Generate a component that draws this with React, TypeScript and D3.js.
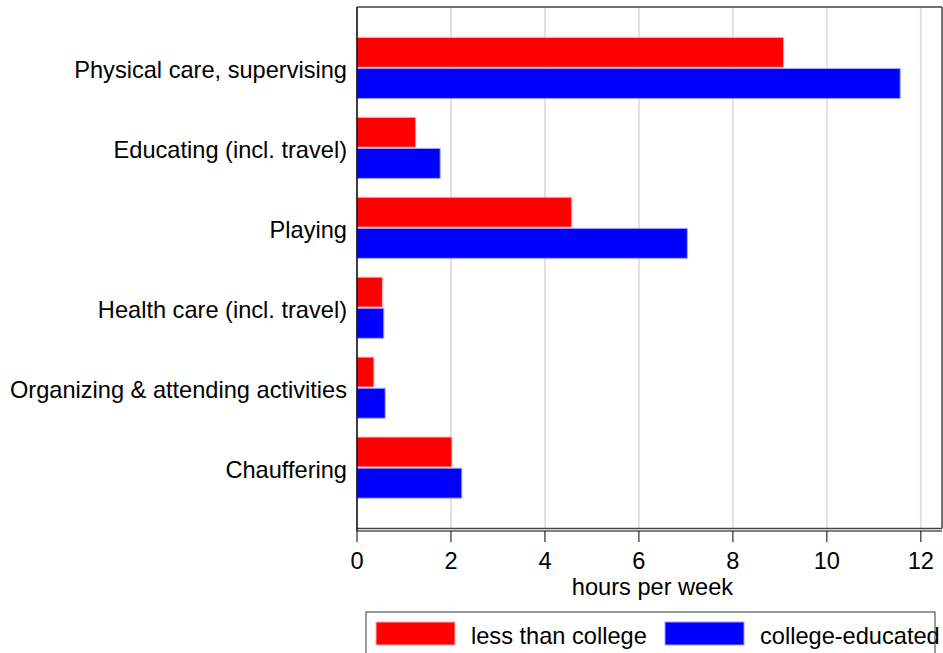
import React from "react";
import * as d3 from "d3";

const categories = [
  "Physical care, supervising",
  "Educating (incl. travel)",
  "Playing",
  "Health care (incl. travel)",
  "Organizing & attending activities",
  "Chauffering",
];
const lessThanCollege = [9.08, 1.25, 4.57, 0.54, 0.36, 2.02];
const collegeEducated = [11.56, 1.77, 7.03, 0.57, 0.6, 2.23];
const seriesNames = ["less than college", "college-educated"];
const seriesColors = ["#ff0000", "#0000ff"];
const seriesStroke = ["#ffb0b0", "#a0a0ff"];
const xTicks = [0, 2, 4, 6, 8, 10, 12];
const xTitle = "hours per week";

const W = 943;
const H = 653;
const left = 357;
const right = 942;
const top = 7;
const bottom = 528.5;
const FONT = "'Liberation Sans', Arial, sans-serif";
const FS = 23.6;

export default function App() {
  const x = d3.scaleLinear().domain([0, 12.45]).range([left, right]);
  const y = d3
    .scaleBand<string>()
    .domain(categories)
    .range([top, bottom])
    .paddingInner(0.236)
    .paddingOuter(0.38);
  const sub = d3
    .scaleBand<number>()
    .domain([0, 1])
    .range([0, y.bandwidth()])
    .paddingInner(0.04);
  const series = [lessThanCollege, collegeEducated];

  return (
    <svg
      width={W}
      height={H}
      style={{ position: "absolute", left: 0, top: 0, background: "#fff" }}
      fontFamily={FONT}
    >
      <rect x={0} y={0} width={W} height={H} fill="#fff" />
      {xTicks
        .filter((t) => t > 0)
        .map((t) => (
          <line
            key={"g" + t}
            x1={x(t)}
            x2={x(t)}
            y1={top}
            y2={bottom}
            stroke="#e0e0e0"
            strokeWidth={2}
          />
        ))}
      {categories.map((c, i) =>
        series.map((s, j) => (
          <rect
            key={c + j}
            x={x(0)}
            y={(y(c) as number) + (sub(j) as number)}
            width={x(s[i]) - x(0)}
            height={sub.bandwidth()}
            fill={seriesColors[j]}
            stroke={seriesStroke[j]}
            strokeWidth={1}
          />
        ))
      )}
      <line x1={left} x2={right} y1={top} y2={top} stroke="#444" strokeWidth={1.5} />
      <line x1={right} x2={right} y1={top} y2={bottom} stroke="#444" strokeWidth={1.5} />
      <line x1={left} x2={right} y1={bottom} y2={bottom} stroke="#444" strokeWidth={1.5} />
      <line x1={left} x2={left} y1={top} y2={bottom + 3} stroke="#000" strokeWidth={1.5} />
      <line x1={left} x2={right} y1={531} y2={531} stroke="#555" strokeWidth={1.5} />
      {xTicks.map((t) => (
        <g key={"t" + t}>
          <line x1={x(t)} x2={x(t)} y1={531} y2={542} stroke="#000" strokeWidth={1} />
          <text x={x(t)} y={568.5} textAnchor="middle" fontSize={FS} fill="#000">
            {t}
          </text>
        </g>
      ))}
      <text x={(left + right) / 2 + 3} y={594.5} textAnchor="middle" fontSize={FS} fill="#000">
        {xTitle}
      </text>
      {categories.map((c) => (
        <text
          key={"l" + c}
          x={347}
          y={(y(c) as number) + y.bandwidth() / 2 + 10.5}
          textAnchor="end"
          fontSize={FS}
          fill="#000"
        >
          {c}
        </text>
      ))}
      <rect x={366} y={612} width={569} height={60} fill="none" stroke="#333" strokeWidth={1} />
      {seriesNames.map((n, j) => {
        const sx = j === 0 ? 376 : 665;
        return (
          <g key={n}>
            <rect x={sx} y={622} width={79} height={23} fill={seriesColors[j]} stroke={seriesStroke[j]} strokeWidth={1} />
            <text x={sx + 95} y={644} fontSize={FS} fill="#000">
              {n}
            </text>
          </g>
        );
      })}
    </svg>
  );
}
